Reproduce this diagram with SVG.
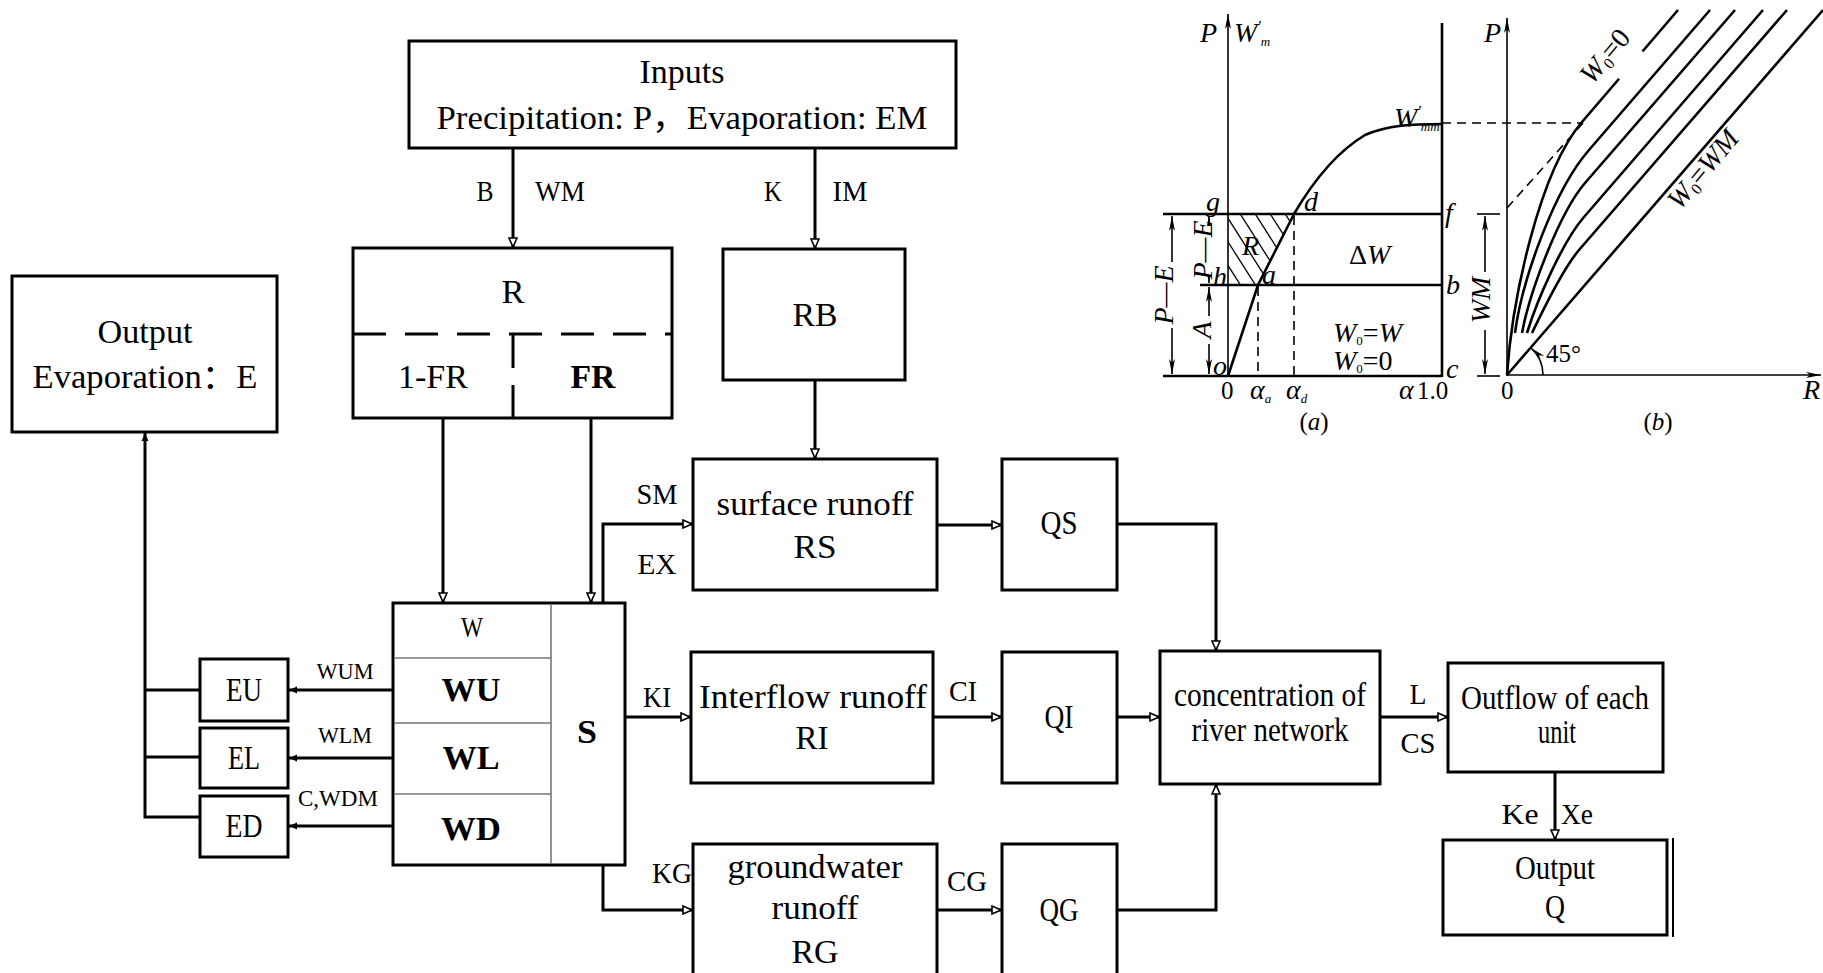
<svg xmlns="http://www.w3.org/2000/svg" width="1823" height="973" viewBox="0 0 1823 973">
<style>
.box{fill:#fff;stroke:#000;stroke-width:3}
.ln{fill:none;stroke:#000;stroke-width:3}
.thin{fill:none;stroke:#777;stroke-width:1.6}
.t{font-family:"Liberation Serif","Times New Roman","Noto Sans CJK SC",serif;font-size:33px;fill:#000;text-anchor:middle}
.l{font-family:"Liberation Serif","Times New Roman","Noto Sans CJK SC",serif;font-size:29px;fill:#000;text-anchor:middle}
.s{font-family:"Liberation Serif","Times New Roman",serif;font-size:23px;fill:#000;text-anchor:middle}
.b{font-weight:bold}
.g{fill:none;stroke:#000;stroke-width:1.6}
.gk{fill:none;stroke:#000;stroke-width:2.6}
.gd{fill:none;stroke:#000;stroke-width:1.6;stroke-dasharray:9 6}
.gi{font-family:"Liberation Serif","Times New Roman",serif;font-style:italic;font-size:28px;fill:#000}
.gn{font-family:"Liberation Serif","Times New Roman",serif;font-size:25px;fill:#000}
</style>
<defs>
<marker id="ah" markerUnits="userSpaceOnUse" markerWidth="12" markerHeight="10" refX="10" refY="5" orient="auto">
<path d="M1,1 L10,5 L1,9 z" fill="#fff" stroke="#000" stroke-width="1.6"/>
</marker>
<marker id="af" markerUnits="userSpaceOnUse" markerWidth="12" markerHeight="10" refX="9" refY="5" orient="auto">
<path d="M1,1.5 L9,5 L1,8.5 z" fill="#000"/>
</marker>
<marker id="ga" markerUnits="userSpaceOnUse" markerWidth="16" markerHeight="10" refX="15" refY="4" orient="auto">
<path d="M0,1 L15,4 L0,7 L4,4 z" fill="#000"/>
</marker>
<clipPath id="hatch"><polygon points="1228,214 1294,214 1258,285 1228,285"/></clipPath>
</defs>

<!-- connectors -->
<g id="connectors">
<line class="ln" x1="513" y1="148" x2="513" y2="247" marker-end="url(#ah)"/>
<line class="ln" x1="815" y1="148" x2="815" y2="248" marker-end="url(#ah)"/>
<line class="ln" x1="443" y1="418" x2="443" y2="602" marker-end="url(#ah)"/>
<line class="ln" x1="591" y1="418" x2="591" y2="602" marker-end="url(#ah)"/>
<line class="ln" x1="815" y1="380" x2="815" y2="458" marker-end="url(#ah)"/>
<polyline class="ln" points="603,603 603,524 692,524" marker-end="url(#ah)"/>
<line class="ln" x1="625" y1="717" x2="690" y2="717" marker-end="url(#ah)"/>
<polyline class="ln" points="603,865 603,910 692,910" marker-end="url(#ah)"/>
<line class="ln" x1="937" y1="525" x2="1001" y2="525" marker-end="url(#ah)"/>
<line class="ln" x1="933" y1="717" x2="1001" y2="717" marker-end="url(#ah)"/>
<line class="ln" x1="937" y1="910" x2="1001" y2="910" marker-end="url(#ah)"/>
<polyline class="ln" points="1117,524 1216,524 1216,650" marker-end="url(#ah)"/>
<line class="ln" x1="1117" y1="717" x2="1159" y2="717" marker-end="url(#ah)"/>
<polyline class="ln" points="1117,910 1216,910 1216,785" marker-end="url(#ah)"/>
<line class="ln" x1="1380" y1="717" x2="1447" y2="717" marker-end="url(#ah)"/>
<line class="ln" x1="1555" y1="772" x2="1555" y2="839" marker-end="url(#ah)"/>
<line class="ln" x1="393" y1="690" x2="289" y2="690" marker-end="url(#af)"/>
<line class="ln" x1="393" y1="758" x2="289" y2="758" marker-end="url(#af)"/>
<line class="ln" x1="393" y1="826" x2="289" y2="826" marker-end="url(#af)"/>
<polyline class="ln" points="200,690 145,690"/>
<polyline class="ln" points="200,757 145,757"/>
<polyline class="ln" points="200,817 145,817 145,433" marker-end="url(#af)"/>
<text class="l" x="485" y="201" textLength="17" lengthAdjust="spacingAndGlyphs">B</text>
<text class="l" x="560" y="201" textLength="50" lengthAdjust="spacingAndGlyphs">WM</text>
<text class="l" x="773" y="201" textLength="18" lengthAdjust="spacingAndGlyphs">K</text>
<text class="l" x="850" y="201" textLength="35" lengthAdjust="spacingAndGlyphs">IM</text>
<text class="l" x="657" y="504" textLength="41" lengthAdjust="spacingAndGlyphs">SM</text>
<text class="l" x="657" y="574" textLength="39" lengthAdjust="spacingAndGlyphs">EX</text>
<text class="l" x="657" y="707" textLength="28" lengthAdjust="spacingAndGlyphs">KI</text>
<text class="l" x="672" y="883" textLength="40" lengthAdjust="spacingAndGlyphs">KG</text>
<text class="l" x="963" y="701" textLength="28" lengthAdjust="spacingAndGlyphs">CI</text>
<text class="l" x="967" y="891" textLength="40" lengthAdjust="spacingAndGlyphs">CG</text>
<text class="l" x="1418" y="704" textLength="17" lengthAdjust="spacingAndGlyphs">L</text>
<text class="l" x="1418" y="753" textLength="35" lengthAdjust="spacingAndGlyphs">CS</text>
<text class="l" x="1520" y="824" textLength="37" lengthAdjust="spacingAndGlyphs">Ke</text>
<text class="l" x="1577" y="824" textLength="32" lengthAdjust="spacingAndGlyphs">Xe</text>
<text class="s" x="345" y="679" textLength="57" lengthAdjust="spacingAndGlyphs">WUM</text>
<text class="s" x="345" y="743" textLength="54" lengthAdjust="spacingAndGlyphs">WLM</text>
<text class="s" x="338" y="806" textLength="80" lengthAdjust="spacingAndGlyphs">C,WDM</text>
</g>

<g id="inputs">
<rect class="box" x="409" y="41" width="547" height="107"/>
<text class="t" x="682" y="83" textLength="85" lengthAdjust="spacingAndGlyphs">Inputs</text>
<text class="t" x="682" y="129" textLength="491" lengthAdjust="spacingAndGlyphs">Precipitation: P，Evaporation: EM</text>
</g>

<g id="r-box">
<rect class="box" x="353" y="248" width="319" height="170"/>
<line x1="353" y1="334" x2="672" y2="334" stroke="#000" stroke-width="3" stroke-dasharray="33 19"/>
<line x1="513" y1="334" x2="513" y2="418" stroke="#000" stroke-width="3" stroke-dasharray="34 17"/>
<text class="t" x="513" y="303" textLength="23" lengthAdjust="spacingAndGlyphs">R</text>
<text class="t" x="433" y="388" textLength="70" lengthAdjust="spacingAndGlyphs">1-FR</text>
<text class="t b" x="593" y="388" textLength="45" lengthAdjust="spacingAndGlyphs">FR</text>
</g>

<g id="rb-box">
<rect class="box" x="723" y="249" width="182" height="131"/>
<text class="t" x="815" y="326" textLength="45" lengthAdjust="spacingAndGlyphs">RB</text>
</g>

<g id="output-evaporation">
<rect class="box" x="12" y="276" width="265" height="156"/>
<text class="t" x="145" y="343" textLength="95" lengthAdjust="spacingAndGlyphs">Output</text>
<text class="t" x="145" y="388" textLength="225" lengthAdjust="spacingAndGlyphs">Evaporation：E</text>
</g>

<g id="soil-block">
<rect class="box" x="393" y="603" width="232" height="262"/>
<line class="thin" x1="551" y1="604" x2="551" y2="864"/>
<line class="thin" x1="394" y1="658" x2="551" y2="658"/>
<line class="thin" x1="394" y1="723" x2="551" y2="723"/>
<line class="thin" x1="394" y1="794" x2="551" y2="794"/>
<text class="l" x="472" y="637" textLength="22" lengthAdjust="spacingAndGlyphs">W</text>
<text class="t b" x="471" y="701" textLength="59" lengthAdjust="spacingAndGlyphs">WU</text>
<text class="t b" x="471" y="769" textLength="57" lengthAdjust="spacingAndGlyphs">WL</text>
<text class="t b" x="471" y="840" textLength="60" lengthAdjust="spacingAndGlyphs">WD</text>
<text class="t b" x="587" y="743" textLength="20" lengthAdjust="spacingAndGlyphs">S</text>
</g>

<g id="eu"><rect class="box" x="200" y="659" width="88" height="62"/><text class="t" x="244" y="701" textLength="36" lengthAdjust="spacingAndGlyphs">EU</text></g>
<g id="el"><rect class="box" x="200" y="728" width="88" height="60"/><text class="t" x="244" y="769" textLength="32" lengthAdjust="spacingAndGlyphs">EL</text></g>
<g id="ed"><rect class="box" x="200" y="796" width="88" height="61"/><text class="t" x="244" y="837" textLength="37" lengthAdjust="spacingAndGlyphs">ED</text></g>

<g id="surface-runoff">
<rect class="box" x="693" y="459" width="244" height="131"/>
<text class="t" x="815" y="515" textLength="197" lengthAdjust="spacingAndGlyphs">surface runoff</text>
<text class="t" x="815" y="558" textLength="43" lengthAdjust="spacingAndGlyphs">RS</text>
</g>
<g id="interflow-runoff">
<rect class="box" x="691" y="652" width="242" height="131"/>
<text class="t" x="813" y="708" textLength="228" lengthAdjust="spacingAndGlyphs">Interflow runoff</text>
<text class="t" x="812" y="749" textLength="33" lengthAdjust="spacingAndGlyphs">RI</text>
</g>
<g id="groundwater-runoff">
<rect class="box" x="693" y="844" width="244" height="150"/>
<text class="t" x="815" y="878" textLength="175" lengthAdjust="spacingAndGlyphs">groundwater</text>
<text class="t" x="815" y="919" textLength="87" lengthAdjust="spacingAndGlyphs">runoff</text>
<text class="t" x="815" y="963" textLength="47" lengthAdjust="spacingAndGlyphs">RG</text>
</g>

<g id="qs"><rect class="box" x="1002" y="459" width="115" height="131"/><text class="t" x="1059" y="534" textLength="37" lengthAdjust="spacingAndGlyphs">QS</text></g>
<g id="qi"><rect class="box" x="1002" y="652" width="115" height="131"/><text class="t" x="1059" y="728" textLength="29" lengthAdjust="spacingAndGlyphs">QI</text></g>
<g id="qg"><rect class="box" x="1002" y="844" width="115" height="150"/><text class="t" x="1059" y="921" textLength="39" lengthAdjust="spacingAndGlyphs">QG</text></g>

<g id="concentration">
<rect class="box" x="1160" y="651" width="220" height="133"/>
<text class="t" x="1270" y="706" textLength="192" lengthAdjust="spacingAndGlyphs">concentration of</text>
<text class="t" x="1270" y="741" textLength="157" lengthAdjust="spacingAndGlyphs">river network</text>
</g>

<g id="outflow">
<rect class="box" x="1448" y="663" width="215" height="109"/>
<text class="t" x="1555" y="709" textLength="188" lengthAdjust="spacingAndGlyphs">Outflow of each</text>
<text class="t" x="1557" y="743" textLength="38" lengthAdjust="spacingAndGlyphs">unit</text>
</g>

<g id="output-q">
<rect class="box" x="1443" y="840" width="224" height="95"/>
<line x1="1673" y1="838" x2="1673" y2="937" stroke="#000" stroke-width="2"/>
<text class="t" x="1555" y="879" textLength="80" lengthAdjust="spacingAndGlyphs">Output</text>
<text class="t" x="1555" y="918" textLength="20" lengthAdjust="spacingAndGlyphs">Q</text>
</g>

<!-- graph (a) -->
<g id="graph-a">
<line class="g" x1="1228" y1="376" x2="1228" y2="14" marker-end="url(#ga)"/>
<line class="gk" x1="1442" y1="23" x2="1442" y2="377"/>
<line class="gk" x1="1163" y1="376" x2="1442" y2="376"/>
<line class="gk" x1="1163" y1="214" x2="1442" y2="214"/>
<line class="gk" x1="1200" y1="285" x2="1442" y2="285"/>
<path class="gk" d="M1228,376 L1258,285 L1294,214 C1315,178 1340,150 1365,135 C1388,125 1412,124 1442,124"/>
<line class="gd" x1="1258" y1="287" x2="1258" y2="376"/>
<line class="gd" x1="1294" y1="216" x2="1294" y2="376"/>
<line class="gd" x1="1442" y1="123" x2="1583" y2="123" stroke-dasharray="13 9"/>
<g clip-path="url(#hatch)" stroke="#000" stroke-width="1.3">
<line x1="1180" y1="190" x2="1250" y2="300"/>
<line x1="1195" y1="190" x2="1265" y2="300"/>
<line x1="1210" y1="190" x2="1280" y2="300"/>
<line x1="1225" y1="190" x2="1295" y2="300"/>
<line x1="1240" y1="190" x2="1310" y2="300"/>
<line x1="1255" y1="190" x2="1325" y2="300"/>
<line x1="1270" y1="190" x2="1340" y2="300"/>
<line x1="1285" y1="190" x2="1355" y2="300"/>
</g>
<line class="g" x1="1172" y1="295" x2="1172" y2="216" marker-end="url(#ga)"/>
<line class="g" x1="1172" y1="295" x2="1172" y2="374" marker-end="url(#ga)"/>
<line class="g" x1="1209" y1="250" x2="1209" y2="216" marker-end="url(#ga)"/>
<line class="g" x1="1209" y1="250" x2="1209" y2="283" marker-end="url(#ga)"/>
<line class="g" x1="1209" y1="330" x2="1209" y2="287" marker-end="url(#ga)"/>
<line class="g" x1="1209" y1="330" x2="1209" y2="374" marker-end="url(#ga)"/>
<rect x="1156" y="262" width="22" height="66" fill="#fff"/>
<rect x="1196" y="226" width="20" height="50" fill="#fff"/>
<rect x="1196" y="316" width="20" height="28" fill="#fff"/>
<text class="gi" transform="translate(1173,295) rotate(-90)" text-anchor="middle">P—E</text>
<text class="gi" transform="translate(1212,250) rotate(-90)" text-anchor="middle" font-size="25">P—E</text>
<text class="gi" transform="translate(1211,330) rotate(-90)" text-anchor="middle">A</text>
<text class="gi" x="1200" y="42">P</text>
<text class="gi" x="1234" y="42">W<tspan font-size="16" dy="-10">′</tspan><tspan font-size="13" dy="14">m</tspan></text>
<text class="gi" x="1394" y="127">W<tspan font-size="16" dy="-10">′</tspan><tspan font-size="13" dy="14">mm</tspan></text>
<text class="gi" x="1206" y="211">g</text>
<text class="gi" x="1304" y="211">d</text>
<text class="gi" x="1445" y="222">f</text>
<text class="gi" x="1213" y="286">h</text>
<text class="gi" x="1262" y="284">a</text>
<text class="gi" x="1446" y="294">b</text>
<text class="gi" x="1213" y="375">o</text>
<text class="gi" x="1446" y="378">c</text>
<text class="gi" x="1242" y="255">R</text>
<text class="gi" x="1349" y="264"><tspan font-style="normal">Δ</tspan>W</text>
<text class="gi" x="1333" y="342" font-size="22">W<tspan font-size="13" dy="3" font-style="normal">0</tspan><tspan dy="-3" font-style="normal">=</tspan>W</text>
<text class="gi" x="1333" y="370" font-size="22">W<tspan font-size="13" dy="3" font-style="normal">0</tspan><tspan dy="-3" font-style="normal">=0</tspan></text>
<text class="gn" x="1221" y="399">0</text>
<text class="gi" x="1250" y="399" font-size="23">α<tspan font-size="13" dy="4">a</tspan></text>
<text class="gi" x="1286" y="399" font-size="23">α<tspan font-size="13" dy="4">d</tspan></text>
<text class="gi" x="1399" y="399" font-size="23">α</text>
<text class="gn" x="1417" y="399">1.0</text>
<text class="gn" x="1314" y="430" text-anchor="middle">(<tspan font-style="italic">a</tspan>)</text>
</g>

<!-- graph (b) -->
<g id="graph-b">
<line class="g" x1="1507" y1="376" x2="1507" y2="18" marker-end="url(#ga)"/>
<line class="g" x1="1507" y1="375" x2="1821" y2="375" marker-end="url(#ga)"/>
<line class="g" x1="1477" y1="214" x2="1500" y2="214"/>
<line class="g" x1="1477" y1="376" x2="1500" y2="376"/>
<line class="g" x1="1485" y1="295" x2="1485" y2="216" marker-end="url(#ga)"/>
<line class="g" x1="1485" y1="295" x2="1485" y2="374" marker-end="url(#ga)"/>
<rect x="1470" y="272" width="24" height="58" fill="#fff"/>
<text class="gi" transform="translate(1490,300) rotate(-90)" text-anchor="middle">WM</text>
<line class="gd" x1="1507" y1="208" x2="1583" y2="123" stroke-dasharray="11 8"/>
<g class="gk" stroke-width="2.2">
<path d="M1507,375 L1823,10"/>
<path d="M1507,375 C1512,300 1539,172 1582,122 L1678,10"/>
<path d="M1515,333 C1522,280 1554,190 1589,150 L1710,10"/>
<path d="M1522,333 C1530,290 1560,212 1585,183 L1735,10"/>
<path d="M1527,333 C1537,300 1563,241 1584,217 L1763,10"/>
<path d="M1532,333 C1543,310 1562,270 1579,250 L1787,10"/>
</g>
<path class="g" d="M1543,375 A36,36 0 0 0 1531,348" marker-end="url(#ga)"/>
<text class="gn" x="1546" y="362" font-size="22">45°</text>
<rect x="1596" y="20" width="36" height="62" fill="#fff" transform="rotate(-50 1614 51)"/>
<text class="gi" transform="translate(1612,62) rotate(-50)" text-anchor="middle">W<tspan font-size="16" dy="4" font-style="normal">0</tspan><tspan dy="-4" font-style="normal">=0</tspan></text>
<text class="gi" transform="translate(1710,175) rotate(-50)" text-anchor="middle">W<tspan font-size="16" dy="4" font-style="normal">0</tspan><tspan dy="-4" font-style="normal">=</tspan>WM</text>
<text class="gi" x="1484" y="42">P</text>
<text class="gn" x="1501" y="399">0</text>
<text class="gi" x="1803" y="399">R</text>
<text class="gn" x="1658" y="430" text-anchor="middle">(<tspan font-style="italic">b</tspan>)</text>
</g>
</svg>
